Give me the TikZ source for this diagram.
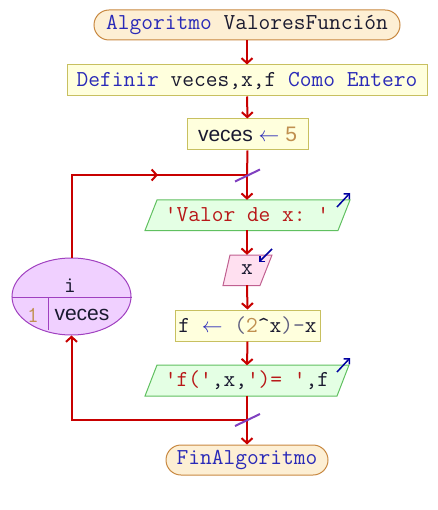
\documentclass[tikz,border=0pt]{standalone}
\usepackage{fontspec}
\newfontfamily\monof{Latin Modern Mono}
\newfontfamily\sansf{Liberation Sans}
\usetikzlibrary{arrows.meta,shapes.geometric}
\definecolor{kw}{HTML}{2A2AB8}
\definecolor{idc}{HTML}{1A1A30}
\definecolor{strc}{HTML}{B81818}
\definecolor{numc}{HTML}{C09050}
\definecolor{opc}{HTML}{606080}
\definecolor{flowc}{HTML}{C80000}
\definecolor{slashc}{HTML}{8040C0}
\definecolor{ioc}{HTML}{0000A0}
\definecolor{startfill}{HTML}{FDEFD4}
\definecolor{startdraw}{HTML}{C88840}
\definecolor{assfill}{HTML}{FFFFDD}
\definecolor{assdraw}{HTML}{C8C060}
\definecolor{outfill}{HTML}{E4FFE4}
\definecolor{outdraw}{HTML}{60C060}
\definecolor{infill}{HTML}{FFE0F0}
\definecolor{indraw}{HTML}{C06090}
\definecolor{loopfill}{HTML}{F0D0FF}
\definecolor{loopdraw}{HTML}{A040C0}
\begin{document}
\begin{tikzpicture}[x=1pt,y=-1pt,
  font=\monof\fontsize{22.8}{26}\selectfont,
  conn/.style={draw=flowc,line width=2pt},
  flow/.style={conn,-{Straight Barb[length=5pt,width=11pt]}},
  startbox/.style={draw=startdraw,fill=startfill,line width=1pt,rounded corners=15pt,inner sep=0pt},
  assbox/.style={draw=assdraw,fill=assfill,line width=1pt,inner sep=0pt},
  txt/.style={inner sep=0pt,minimum height=30pt},
  slash/.style={draw=slashc,line width=2pt},
  ioarrow/.style={draw=ioc,line width=1.5pt,-{Straight Barb[length=4pt,width=8pt]}},
  outpoly/.style={draw=outdraw,fill=outfill,line width=1pt},
  inpoly/.style={draw=indraw,fill=infill,line width=1pt}]
\useasboundingbox (0,0) rectangle (437,510);
% start / definitions
\node[startbox,minimum width=306pt,minimum height=30pt] (start) at (247,25)
  {\textcolor{kw}{Algoritmo} \textcolor{idc}{ValoresFunción}};
\node[assbox,minimum width=360pt,minimum height=31pt] (def) at (247,80.5)
  {\textcolor{kw}{Definir} \textcolor{idc}{veces,x,f} \textcolor{kw}{Como Entero}};
\node[assbox,minimum width=121pt,minimum height=31pt] (veces) at (247.5,134.5)
  {\sansf\fontsize{21}{24}\selectfont\textcolor{idc}{veces} \textcolor{kw}{$\leftarrow$} \textcolor{numc}{5}};
% output 1
\draw[outpoly] (145,230.5) -- (157,200) -- (350,200) -- (338,230.5) -- cycle;
\node[txt] (out1) at (247,215) {\textcolor{strc}{'Valor de x:~'}};
% input
\draw[inpoly] (223,285.5) -- (230,255) -- (272,255) -- (260,285.5) -- cycle;
\node[txt] (inx) at (247,270) {\textcolor{idc}{x}};
% assignment f
\node[assbox,minimum width=145pt,minimum height=31pt] (fa) at (247.5,325.5)
  {\textcolor{idc}{f} \textcolor{kw}{$\leftarrow$} \textcolor{opc}{(}\textcolor{numc}{2}\textcolor{idc}{\textasciicircum x}\textcolor{opc}{)-}\textcolor{idc}{x}};
% output 2
\draw[outpoly] (145,396) -- (157,365) -- (349,365) -- (337,396) -- cycle;
\node[txt] (out2) at (247,380.5)
  {\textcolor{strc}{'f('}\textcolor{idc}{,x,}\textcolor{strc}{')=~'}\textcolor{idc}{,f}};
% end
\node[startbox,minimum width=162pt,minimum height=30pt] (fin) at (247,460)
  {\textcolor{kw}{FinAlgoritmo}};
% loop ellipse
\node[ellipse,draw=loopdraw,fill=loopfill,line width=1pt,minimum width=119pt,minimum height=77pt,inner sep=0pt] (loop) at (71.5,296.5) {};
\draw[draw=loopdraw,line width=1pt] (loop.west |- 0,297) -- (loop.east |- 0,297);
\draw[draw=loopdraw,line width=1pt] (48,297) -- (48,330);
\node[inner sep=0pt] (li) at (70,286) {\textcolor{idc}{i}};
\node[inner sep=0pt] (l1) at (33,315) {\textcolor{numc}{1}};
\node[inner sep=0pt] (lv) at (82,315) {\sansf\fontsize{21}{24}\selectfont\textcolor{idc}{veces}};
% junctions
\coordinate (jt) at (247,175);
\coordinate (jb) at (247,420);
\coordinate (la) at (158,175);
% connectors
\draw[flow] (start) -- (def);
\draw[flow] (def) -- (veces);
\draw[conn] (veces.south) -- (jt);
\draw[conn] (loop.north) |- (jt);
\draw[flow] (loop.north |- jt) -- (la);
\draw[flow] (jt) -- (out1.north);
\draw[flow] (out1.south) -- (inx.north);
\draw[flow] (inx.south) -- (fa.north);
\draw[flow] (fa.south) -- (out2.north);
\draw[conn] (out2.south) -- (jb);
\draw[flow] (jb) -| (loop.south);
\draw[flow] (jb) -- (fin.north);
% loop marks
\draw[slash] (235,181.5) -- (260,169.5);
\draw[slash] (235,426) -- (260,414);
% io arrows
\coordinate (o1a) at (337,207);
\coordinate (o1b) at (350,193);
\draw[ioarrow] (o1a) -- (o1b);
\coordinate (o2a) at (337,372);
\coordinate (o2b) at (350,358);
\draw[ioarrow] (o2a) -- (o2b);
\coordinate (iia) at (272,249);
\coordinate (iib) at (259,262);
\draw[ioarrow] (iia) -- (iib);
\end{tikzpicture}
\end{document}
